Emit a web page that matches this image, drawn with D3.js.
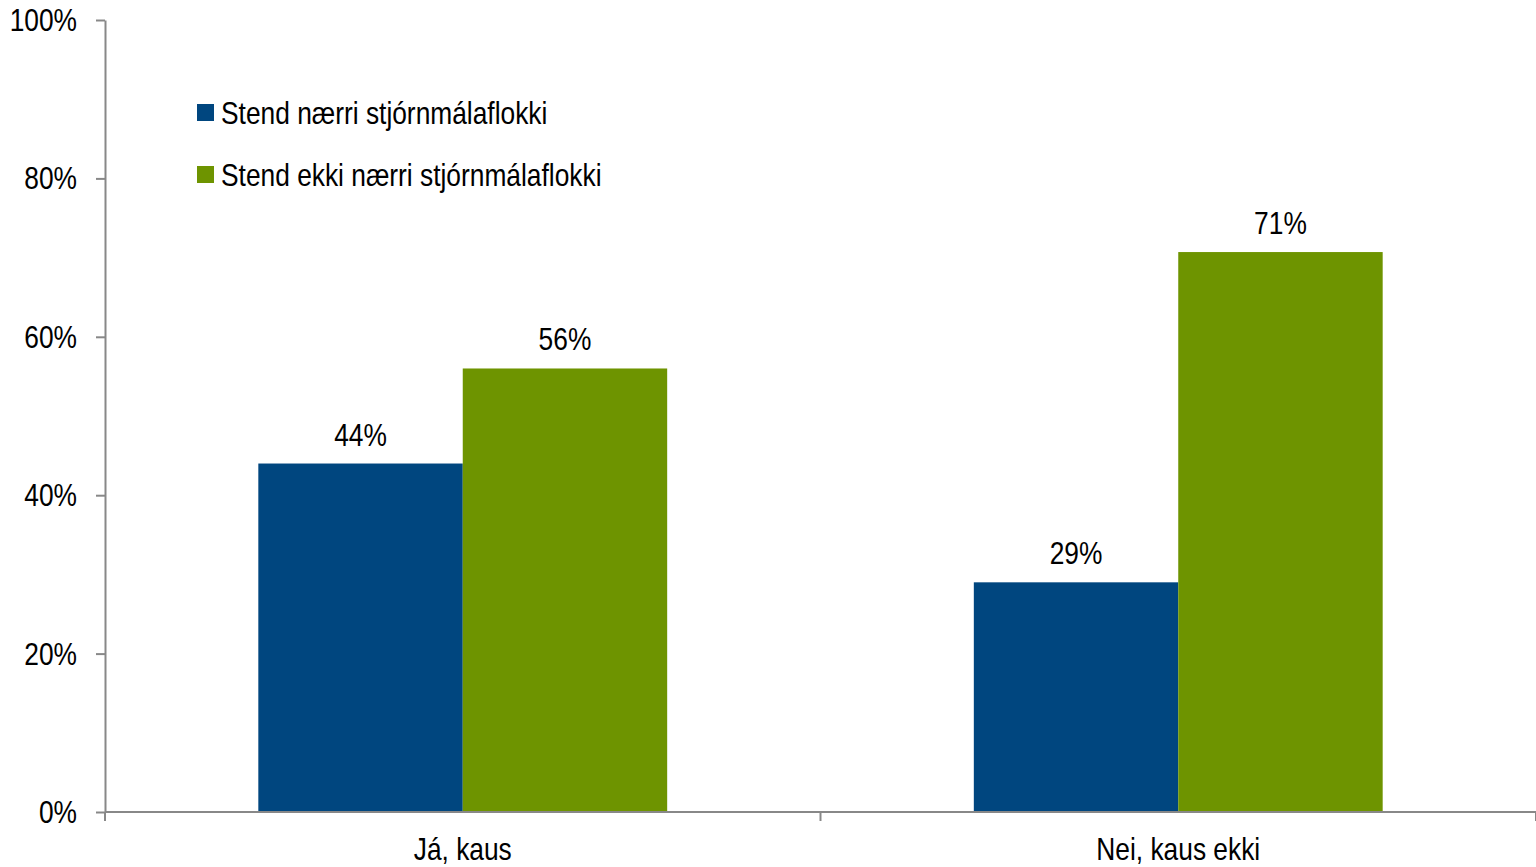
<!DOCTYPE html>
<html>
<head>
<meta charset="utf-8">
<script src="https://cdn.jsdelivr.net/npm/d3@7"></script>
<style>
  body { margin: 0; background: #fff; }
  svg text { font-family: "Liberation Sans Narrow", "Arial Narrow", "Liberation Sans", sans-serif; fill: #000; font-size: 31px; }
</style>
</head>
<body>
<div id="chart"></div>
<script>
// data
const categories = ['Já, kaus', 'Nei, kaus ekki'];
const seriesNames = ['Stend nærri stjórnmálaflokki', 'Stend ekki nærri stjórnmálaflokki'];
const seriesValues = [
  [44, 29],   // Stend nærri
  [56, 70.7]  // Stend ekki nærri
];
const valueLabels = [['44%', '29%'], ['56%', '71%']];
const yTicks = [0, 20, 40, 60, 80, 100];
const colors = ['#00467f', '#6e9400'];

const svgWidth = 1536, svgHeight = 867;
const plotLeft = 105, plotTop = 20, plotBottom = 812, plotRight = 1536;
const squeeze = 0.85; // fake a narrow font

const svg = d3.select('#chart').append('svg')
  .attr('width', svgWidth)
  .attr('height', svgHeight);

// narrow text helper
function label(parent, x, y, txt, anchor) {
  return parent.append('g')
    .attr('transform', `translate(${x},${y}) scale(${squeeze},1)`)
    .append('text')
    .attr('text-anchor', anchor || 'start')
    .text(txt);
}

const x0 = d3.scaleBand().domain(categories).range([plotLeft, plotRight]).padding(0);
const x1 = d3.scaleBand().domain(d3.range(seriesNames.length))
  .range([0, x0.bandwidth()]).paddingInner(0).paddingOuter(0.75);
const y = d3.scaleLinear().domain([0, 100]).range([plotBottom, plotTop]);

// bars
categories.forEach((c, ci) => {
  seriesNames.forEach((s, si) => {
    const v = seriesValues[si][ci];
    svg.append('rect')
      .attr('x', x0(c) + x1(si))
      .attr('y', y(v))
      .attr('width', x1.bandwidth())
      .attr('height', y(0) - y(v))
      .attr('fill', colors[si]);
    label(svg, x0(c) + x1(si) + x1.bandwidth() / 2, y(v) - 18, valueLabels[si][ci], 'middle');
  });
});

// y axis
const yAxis = svg.append('g')
  .attr('transform', `translate(${plotLeft},0)`)
  .call(d3.axisLeft(y).tickValues(yTicks).tickFormat(d => d + '%').tickSize(9).tickSizeOuter(0));
yAxis.select('.domain').attr('stroke', '#888').attr('stroke-width', 2);
yAxis.selectAll('.tick line').attr('stroke', '#888').attr('stroke-width', 2);
yAxis.selectAll('.tick text').remove();
yTicks.forEach(t => label(svg, plotLeft - 28, y(t) + 11, t + '%', 'end'));

// x axis
svg.append('line')
  .attr('x1', plotLeft).attr('x2', plotRight)
  .attr('y1', y(0)).attr('y2', y(0))
  .attr('stroke', '#888').attr('stroke-width', 2);
const bounds = categories.map(c => x0(c)).concat([x0(categories[categories.length - 1]) + x0.bandwidth()]);
svg.selectAll('.xtick').data(bounds).enter().append('line')
  .attr('x1', d => d).attr('x2', d => d)
  .attr('y1', y(0)).attr('y2', y(0) + 9)
  .attr('stroke', '#888').attr('stroke-width', 2);
categories.forEach(c => label(svg, x0(c) + x0.bandwidth() / 2, 860, c, 'middle'));

// legend
seriesNames.forEach((s, i) => {
  const g = svg.append('g').attr('transform', `translate(197, ${104 + i * 62})`);
  g.append('rect').attr('width', 17).attr('height', 17).attr('fill', colors[i]);
  label(g, 24, 20, s);
});
</script>
</body>
</html>
